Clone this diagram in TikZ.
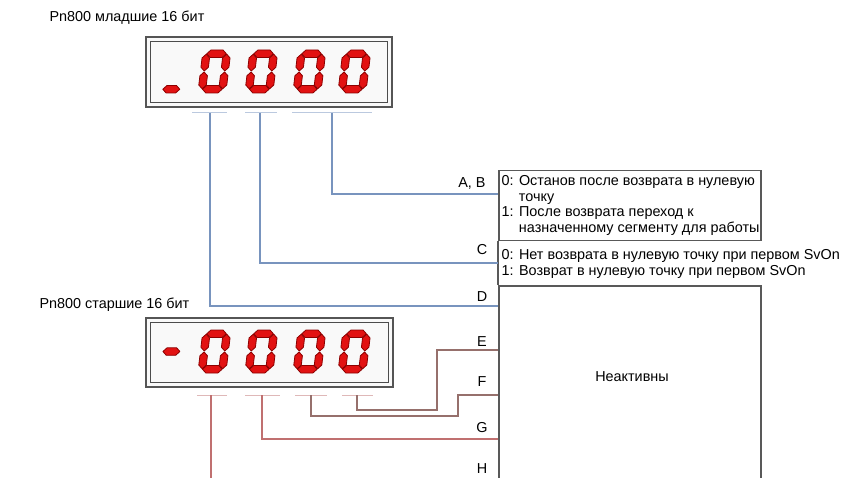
\documentclass[tikz,border=0pt]{standalone}
\usepackage{fontspec}
\setmainfont{Liberation Sans}
\usepackage{tikz}
\usetikzlibrary{positioning}

\definecolor{wireblue}{RGB}{120,148,190}
\definecolor{wirered}{RGB}{192,112,112}
\definecolor{wirebrown}{RGB}{150,112,108}
\definecolor{segred}{RGB}{226,18,18}
\definecolor{segedge}{RGB}{140,0,0}
\definecolor{framegray}{RGB}{85,85,85}

\tikzset{
  segment/.style={fill=segred, draw=segedge, line width=0.8pt, line join=round},
  lcd/.style={draw=framegray, line width=2pt, fill=gray!5, inner sep=0pt},
  lcdinner/.style={draw=gray!60!black, line width=0.9pt, inner sep=0pt},
  infobox/.style={draw=gray!70!black, line width=1.5pt, inner sep=0pt, anchor=north west},
  bluewire/.style={wireblue, line width=1.1pt},
  redwire/.style={wirered, line width=1.1pt},
  brownwire/.style={wirebrown, line width=1.1pt},
  bluetick/.style={wireblue!50, line width=1pt},
  redtick/.style={wirered!50, line width=1pt}
}

% one segment, horizontal or vertical, centre line given
\newcommand{\segH}[3]{\filldraw[segment] (#1,#3) -- (#1+3.75,#3-3.75) -- (#2-3.75,#3-3.75) -- (#2,#3) -- (#2-3.75,#3+3.75) -- (#1+3.75,#3+3.75) -- cycle;}
\newcommand{\segV}[3]{\filldraw[segment] (#1,#2) -- (#1+3.75,#2+3.75) -- (#1+3.75,#3-3.75) -- (#1,#3) -- (#1-3.75,#3-3.75) -- (#1-3.75,#2+3.75) -- cycle;}
% digit 0, top left corner at (#1,#2)
\newcommand{\digitzero}[2]{%
  \begin{scope}[shift={(#1,#2)}, xslant=0.12]
    \segH{4.2}{23.8}{3.75} \segH{4.2}{23.8}{39.25}
    \segV{3.75}{4.2}{21} \segV{3.75}{22}{38.8}
    \segV{24.25}{4.2}{21} \segV{24.25}{22}{38.8}
  \end{scope}}

\begin{document}
\begin{tikzpicture}[x=1pt, y=-1pt, font=\fontsize{14.4}{15.6}\selectfont]
  \useasboundingbox[fill=white] (0,0) rectangle (845,478);

  % titles
  \node[anchor=west] (titleLow) at (46,18) {Pn800 младшие 16 бит};
  \node[anchor=west] (titleHigh) at (36,305) {Pn800 старшие 16 бит};

  % displays
  \node[lcd, minimum width=246, minimum height=70] (dispLow) at (269,72) {};
  \node[lcdinner, minimum width=237, minimum height=61] at (dispLow.center) {};
  \node[lcd, minimum width=247, minimum height=69] (dispHigh) at (269.5,352.5) {};
  \node[lcdinner, minimum width=238, minimum height=60] at (dispHigh.center) {};

  \begin{scope}[shift={(154,50)}, xslant=0.12]
    \segH{13.5}{30.5}{39.25}
  \end{scope}
  \begin{scope}[shift={(154,330)}, xslant=0.12]
    \segH{11.5}{28.5}{21.5}
  \end{scope}
  \foreach \x in {203,250,298,343} {
    \digitzero{\x}{50}
    \digitzero{\x}{330}
  }

  % digit groups
  \foreach \a/\b in {192/227, 245/277, 292/372}
    \draw[bluetick] (\a,113) -- (\b,113);
  \foreach \a/\b in {197/227, 245/280, 295/327, 342/373}
    \draw[redtick] (\a,395) -- (\b,395);

  % right boxes
  \node[infobox, minimum width=262, minimum height=70] (boxAB) at (498,170) {};
  \node[infobox, minimum width=262, minimum height=205] (boxRest) at (498,285) {};
  \draw[draw=gray!70!black, line width=1.5pt] (boxAB.south west) -- (boxRest.north west);

  \node[anchor=north west, align=left, inner sep=0pt] (textAB) at (501.5,175.5)
    {0: Останов после возврата в нулевую\\\hspace*{1.2em}точку\\1: После возврата переход к\\\hspace*{1.2em}назначенному сегменту для работы};
  \node[anchor=north west, align=left, inner sep=0pt] (textC) at (501.5,249.5)
    {0: Нет возврата в нулевую точку при первом SvOn\\1: Возврат в нулевую точку при первом SvOn};
  \node (inactive) at (632,377) {Неактивны};

  % letters
  \node[anchor=east] (labAB) at (489,183) {A, B};
  \node (labC) at (482,250) {C};
  \node (labD) at (482,297) {D};
  \node (labE) at (482,342) {E};
  \node (labF) at (482,382) {F};
  \node (labG) at (482,428) {G};
  \node (labH) at (482,469) {H};

  % lower 16 bit wires
  \coordinate (tapAB) at (332,113);
  \coordinate (tapC) at (260,113);
  \coordinate (tapD) at (210,113);
  \coordinate (inAB) at (498,194);
  \coordinate (inC) at (498,263);
  \coordinate (inD) at (498,306);
  \draw[bluewire] (tapAB) |- (inAB);
  \draw[bluewire] (tapC) |- (inC);
  \draw[bluewire] (tapD) |- (inD);

  % upper 16 bit wires
  \coordinate (tapE) at (357,395);
  \coordinate (tapF) at (311,395);
  \coordinate (tapG) at (262,395);
  \coordinate (tapH) at (211,395);
  \coordinate (bendE) at (437,410);
  \coordinate (bendF) at (458,416);
  \coordinate (inE) at (498,350);
  \coordinate (inF) at (498,395);
  \coordinate (inG) at (498,439);
  \coordinate (endH) at (211,478);
  \draw[brownwire] (tapE) |- (bendE) |- (inE);
  \draw[brownwire] (tapF) |- (bendF) |- (inF);
  \draw[redwire] (tapG) |- (inG);
  \draw[redwire] (tapH) -- (endH);
\end{tikzpicture}
\end{document}
